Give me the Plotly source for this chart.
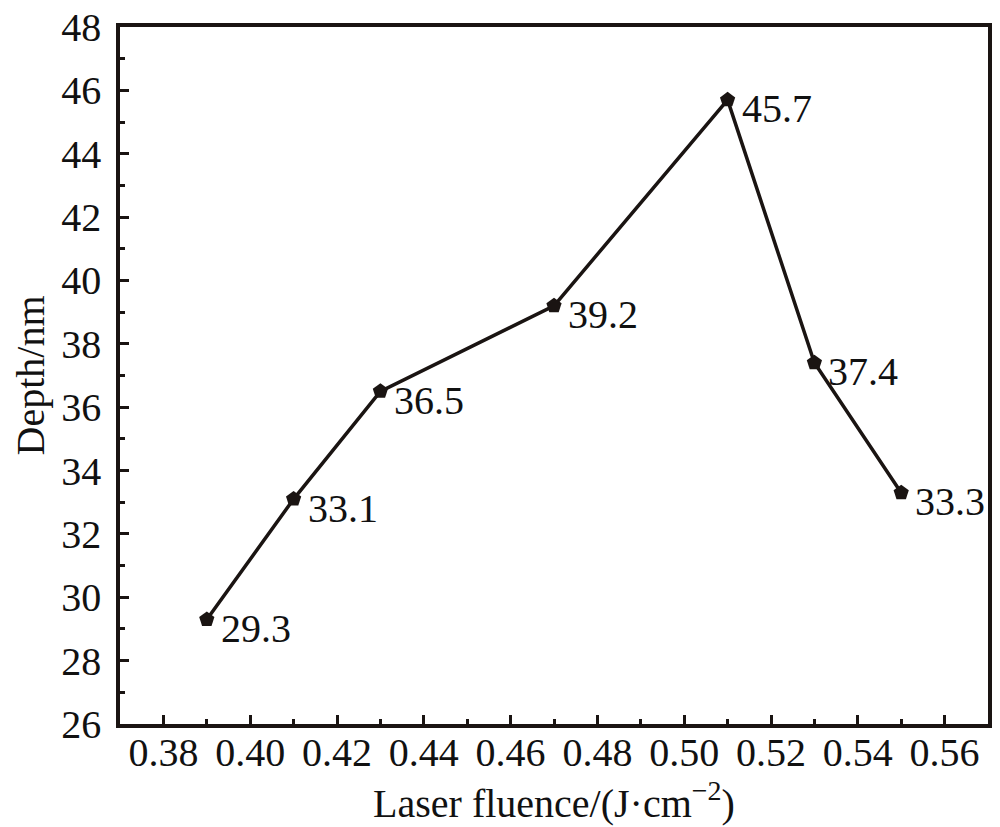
"""
    Laser fluence vs. ablation depth line chart.
"""

import plotly.graph_objects as go

fluence = [0.39, 0.41, 0.43, 0.47, 0.51, 0.53, 0.55]
depth = [29.3, 33.1, 36.5, 39.2, 45.7, 37.4, 33.3]
labels = ["29.3", "33.1", "36.5", "39.2", "45.7", "37.4", "33.3"]

FONT = "Liberation Serif, Times New Roman, serif"
INK = "#1a1412"

fig = go.Figure()
fig.add_trace(go.Scatter(
    x=fluence, y=depth, mode="lines+markers",
    line=dict(color=INK, width=3.5),
    marker=dict(symbol="pentagon", size=16, color=INK),
    showlegend=False,
))

for xv, yv, txt in zip(fluence, depth, labels):
    fig.add_annotation(x=xv, y=yv, text=txt, showarrow=False,
                       xanchor="left", yanchor="middle",
                       xshift=12, yshift=-9,
                       font=dict(family=FONT, size=40, color="#111"))

axis_common = dict(
    showline=True, linecolor=INK, linewidth=3.5, mirror=True,
    ticks="inside", ticklen=9, tickwidth=3, tickcolor=INK,
    showgrid=False, zeroline=False, automargin=False,
    ticklabeloverflow="allow",
    tickfont=dict(family=FONT, size=40, color="#111"),
)

fig.update_xaxes(
    range=[0.37, 0.57], dtick=0.02, tick0=0.38, tickformat=".2f",
    ticklabelstandoff=-10,
    minor=dict(ticks="inside", ticklen=5, tickwidth=3, dtick=0.01, tick0=0.37,
               tickcolor=INK),
    title=dict(text="Laser fluence/(J·cm<sup>−2</sup>)", standoff=0,
               font=dict(family=FONT, size=40, color="#111")),
    **axis_common,
)
fig.update_yaxes(
    range=[26, 48], dtick=2,
    ticklabelstandoff=7,
    minor=dict(ticks="inside", ticklen=5, tickwidth=3, dtick=1, tick0=27,
               tickcolor=INK),
    title=dict(text="Depth/nm", standoff=10,
               font=dict(family=FONT, size=40, color="#111")),
    **axis_common,
)

fig.update_layout(
    width=1000, height=827,
    margin=dict(l=112, r=20, t=19, b=111),
    plot_bgcolor="white", paper_bgcolor="white",
)

fig.write_html("out.html")
